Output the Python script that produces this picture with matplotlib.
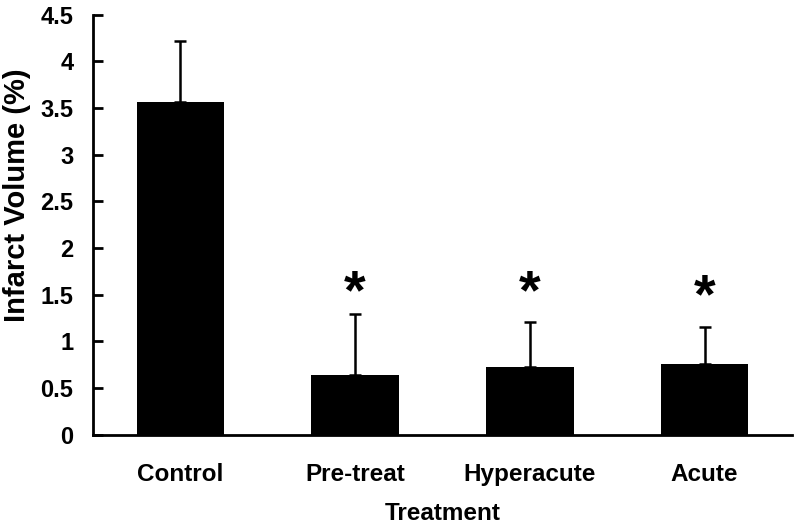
import matplotlib
matplotlib.use("Agg")
import matplotlib.pyplot as plt
from matplotlib.ticker import FuncFormatter

plt.rcParams['font.family'] = ['Liberation Sans', 'DejaVu Sans']
plt.rcParams['font.weight'] = 'bold'

groups = ["Control", "Pre-treat", "Hyperacute", "Acute"]
means = [3.56, 0.64, 0.73, 0.76]
errs = [0.66, 0.65, 0.48, 0.40]
star_y = [1.51, 1.51, 1.46]

fig = plt.figure(figsize=(8, 5.27), dpi=100)
ax = fig.add_axes([0.116, 0.175, 0.874, 0.797])

x = list(range(len(groups)))
ax.bar(x, means, width=0.5, color='black')
ax.errorbar(x, means, yerr=[[0] * len(errs), errs], fmt='none',
            ecolor='black', elinewidth=1.8, capsize=4, capthick=1.8)

for i, y in zip(x[1:], star_y):
    ax.text(i, y, "*", ha='center', va='center', fontsize=40, fontweight='bold')

ax.set_xlim(-0.5, 3.5)
ax.set_ylim(0, 4.5)
ax.set_yticks([i * 0.5 for i in range(10)])
ax.yaxis.set_major_formatter(FuncFormatter(lambda v, p: ('%g' % v)))
ax.set_xticks(x)
ax.set_xticklabels(groups, fontsize=17.5, fontweight='bold')
ax.tick_params(axis='x', length=0, pad=20)
ax.tick_params(axis='y', direction='in', length=7, width=2, labelsize=17, pad=14)

for s in ['top', 'right']:
    ax.spines[s].set_visible(False)
for s in ['left', 'bottom']:
    ax.spines[s].set_linewidth(2)

ax.set_xlabel("Treatment", fontsize=17.5, fontweight='bold', labelpad=12)
ax.set_ylabel("Infarct Volume (%)", fontsize=21, fontweight='bold', va='center')
ax.yaxis.set_label_coords(-0.108, 0.57)

fig.savefig("out.png", dpi=100)
